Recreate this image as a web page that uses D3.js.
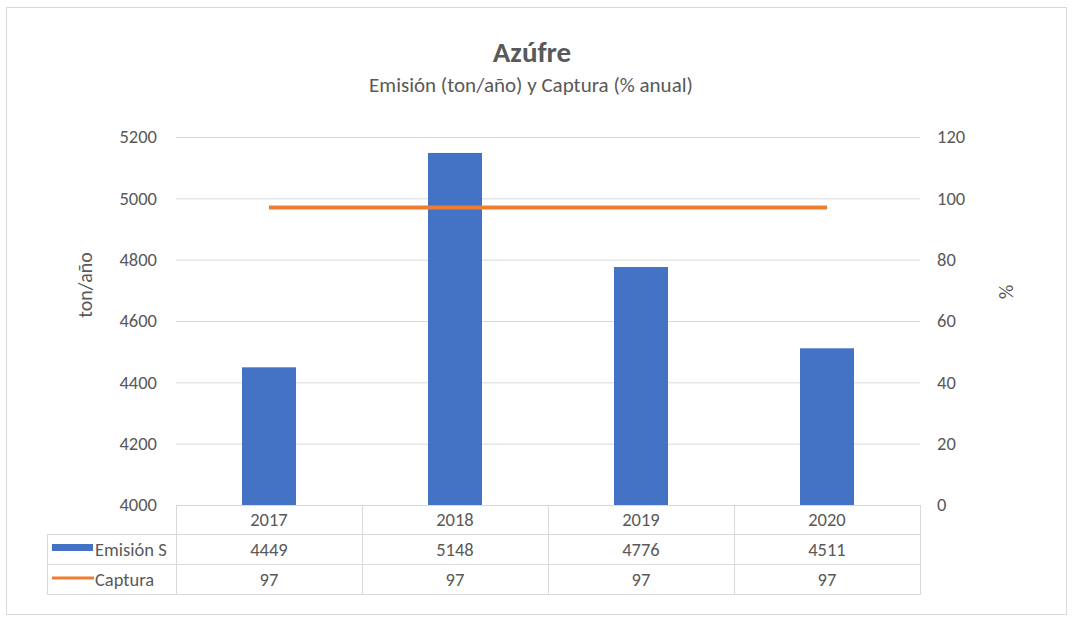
<!DOCTYPE html>
<html>
<head>
<meta charset="utf-8">
<script src="https://cdn.jsdelivr.net/npm/d3@7"></script>
<style>
  body { margin: 0; background: #fff; }
  svg text { font-family: Carlito, "Liberation Sans", "DejaVu Sans", sans-serif; fill: #595959; }
</style>
</head>
<body>
<div id="chart"></div>
<script>
// data
var years = ["2017", "2018", "2019", "2020"];
var emision = [4449, 5148, 4776, 4511];
var captura = [97, 97, 97, 97];
var leftTicks = [4000, 4200, 4400, 4600, 4800, 5000, 5200];
var rightTicks = [0, 20, 40, 60, 80, 100, 120];
var seriesNames = ["Emisión S", "Captura"];

var W = 1072, H = 621;
var plot = {left: 176, right: 920, top: 137, bottom: 505};
var rowH = 30;
var fs = "18.5px";

var svg = d3.select("#chart").append("svg")
    .attr("width", W)
    .attr("height", H);

// chart border
svg.append("rect")
    .attr("x", 6.5).attr("y", 7.5)
    .attr("width", W - 12).attr("height", H - 14)
    .attr("fill", "#fff")
    .attr("stroke", "#d9d9d9");

// scales
var x = d3.scaleBand()
    .domain(years)
    .range([plot.left, plot.right]);
var y = d3.scaleLinear()
    .domain([4000, 5200])
    .range([plot.bottom, plot.top]);
var y2 = d3.scaleLinear()
    .domain([0, 120])
    .range([plot.bottom, plot.top]);

// gridlines
svg.append("g")
    .attr("class", "grid")
    .attr("transform", "translate(" + plot.left + ",0)")
    .call(d3.axisLeft(y).tickValues(leftTicks).tickSize(-(plot.right - plot.left)).tickFormat(""))
    .call(function(g) {
        g.select(".domain").remove();
        g.selectAll("line").attr("stroke", "#d9d9d9");
    });

// left axis labels
svg.append("g")
    .attr("transform", "translate(" + (plot.left - 19) + ",0)")
    .call(d3.axisLeft(y).tickValues(leftTicks).tickSize(0).tickPadding(0).tickFormat(d3.format("d")))
    .call(function(g) {
        g.select(".domain").remove();
        g.selectAll("text").style("font-size", fs).attr("fill", "#595959");
    });

// right axis labels
svg.append("g")
    .attr("transform", "translate(" + (plot.right + 17) + ",0)")
    .call(d3.axisRight(y2).tickValues(rightTicks).tickSize(0).tickPadding(0))
    .call(function(g) {
        g.select(".domain").remove();
        g.selectAll("text").style("font-size", fs).attr("fill", "#595959");
    });

// bars
var barW = 54;
svg.selectAll(".bar")
    .data(emision)
    .enter().append("rect")
    .attr("class", "bar")
    .attr("x", function(d, i) { return x(years[i]) + x.bandwidth() / 2 - barW / 2; })
    .attr("y", function(d) { return y(d); })
    .attr("width", barW)
    .attr("height", function(d) { return y(4000) - y(d); })
    .attr("fill", "#4472c4");

// captura line
var line = d3.line()
    .x(function(d, i) { return x(years[i]) + x.bandwidth() / 2; })
    .y(function(d) { return y2(d); });
svg.append("path")
    .datum(captura)
    .attr("d", line)
    .attr("fill", "none")
    .attr("stroke", "#ed7d31")
    .attr("stroke-width", 4);

// title
svg.append("text")
    .attr("x", 532).attr("y", 62)
    .attr("text-anchor", "middle")
    .style("font-size", "29px")
    .style("font-weight", "bold")
    .text("Azúfre");
svg.append("text")
    .attr("x", 531).attr("y", 92)
    .attr("text-anchor", "middle")
    .style("font-size", "21px")
    .text("Emisión (ton/año) y Captura (% anual)");

// axis titles
svg.append("text")
    .attr("transform", "translate(92,285) rotate(-90)")
    .attr("text-anchor", "middle")
    .style("font-size", "20px")
    .text("ton/año");
svg.append("text")
    .attr("transform", "translate(999,292) rotate(90)")
    .attr("text-anchor", "middle")
    .style("font-size", "20px")
    .text("%");

// data table
var tableLeft = 47;
var table = svg.append("g").attr("class", "table");
var lineColor = "#d9d9d9";

// horizontal lines
table.append("line")
    .attr("x1", plot.left).attr("x2", plot.right)
    .attr("y1", plot.bottom + 0.5).attr("y2", plot.bottom + 0.5)
    .attr("stroke", lineColor);
[1, 2, 3].forEach(function(r) {
    table.append("line")
        .attr("x1", tableLeft).attr("x2", plot.right)
        .attr("y1", plot.bottom + r * rowH - 0.5).attr("y2", plot.bottom + r * rowH - 0.5)
        .attr("stroke", lineColor);
});
// vertical lines
table.append("line")
    .attr("x1", tableLeft + 0.5).attr("x2", tableLeft + 0.5)
    .attr("y1", plot.bottom + rowH).attr("y2", plot.bottom + 3 * rowH)
    .attr("stroke", lineColor);
years.forEach(function(yr) {
    table.append("line")
        .attr("x1", x(yr) + 0.5).attr("x2", x(yr) + 0.5)
        .attr("y1", plot.bottom).attr("y2", plot.bottom + 3 * rowH)
        .attr("stroke", lineColor);
});
table.append("line")
    .attr("x1", plot.right + 0.5).attr("x2", plot.right + 0.5)
    .attr("y1", plot.bottom).attr("y2", plot.bottom + 3 * rowH)
    .attr("stroke", lineColor);

// cell text
var rows = [years, emision, captura];
rows.forEach(function(row, r) {
    table.selectAll(".cell" + r)
        .data(row)
        .enter().append("text")
        .attr("x", function(d, i) { return x(years[i]) + x.bandwidth() / 2; })
        .attr("y", plot.bottom + r * rowH + rowH / 2 + 6)
        .attr("text-anchor", "middle")
        .style("font-size", fs)
        .text(function(d) { return d; });
});

// legend keys in the table
table.append("rect")
    .attr("x", 52).attr("y", plot.bottom + rowH + 9)
    .attr("width", 41).attr("height", 7)
    .attr("fill", "#4472c4");
table.append("line")
    .attr("x1", 52).attr("x2", 94)
    .attr("y1", plot.bottom + 2 * rowH + 13).attr("y2", plot.bottom + 2 * rowH + 13)
    .attr("stroke", "#ed7d31").attr("stroke-width", 3);
// row labels, clipped to the label column like the original
svg.append("clipPath").attr("id", "labelClip")
    .append("rect")
    .attr("x", tableLeft).attr("y", plot.bottom)
    .attr("width", plot.left - tableLeft - 2).attr("height", 3 * rowH);
seriesNames.forEach(function(name, i) {
    table.append("text")
        .attr("clip-path", "url(#labelClip)")
        .attr("x", 95)
        .attr("y", plot.bottom + (i + 1) * rowH + rowH / 2 + 6)
        .style("font-size", fs)
        .text(name);
});
</script>
</body>
</html>
